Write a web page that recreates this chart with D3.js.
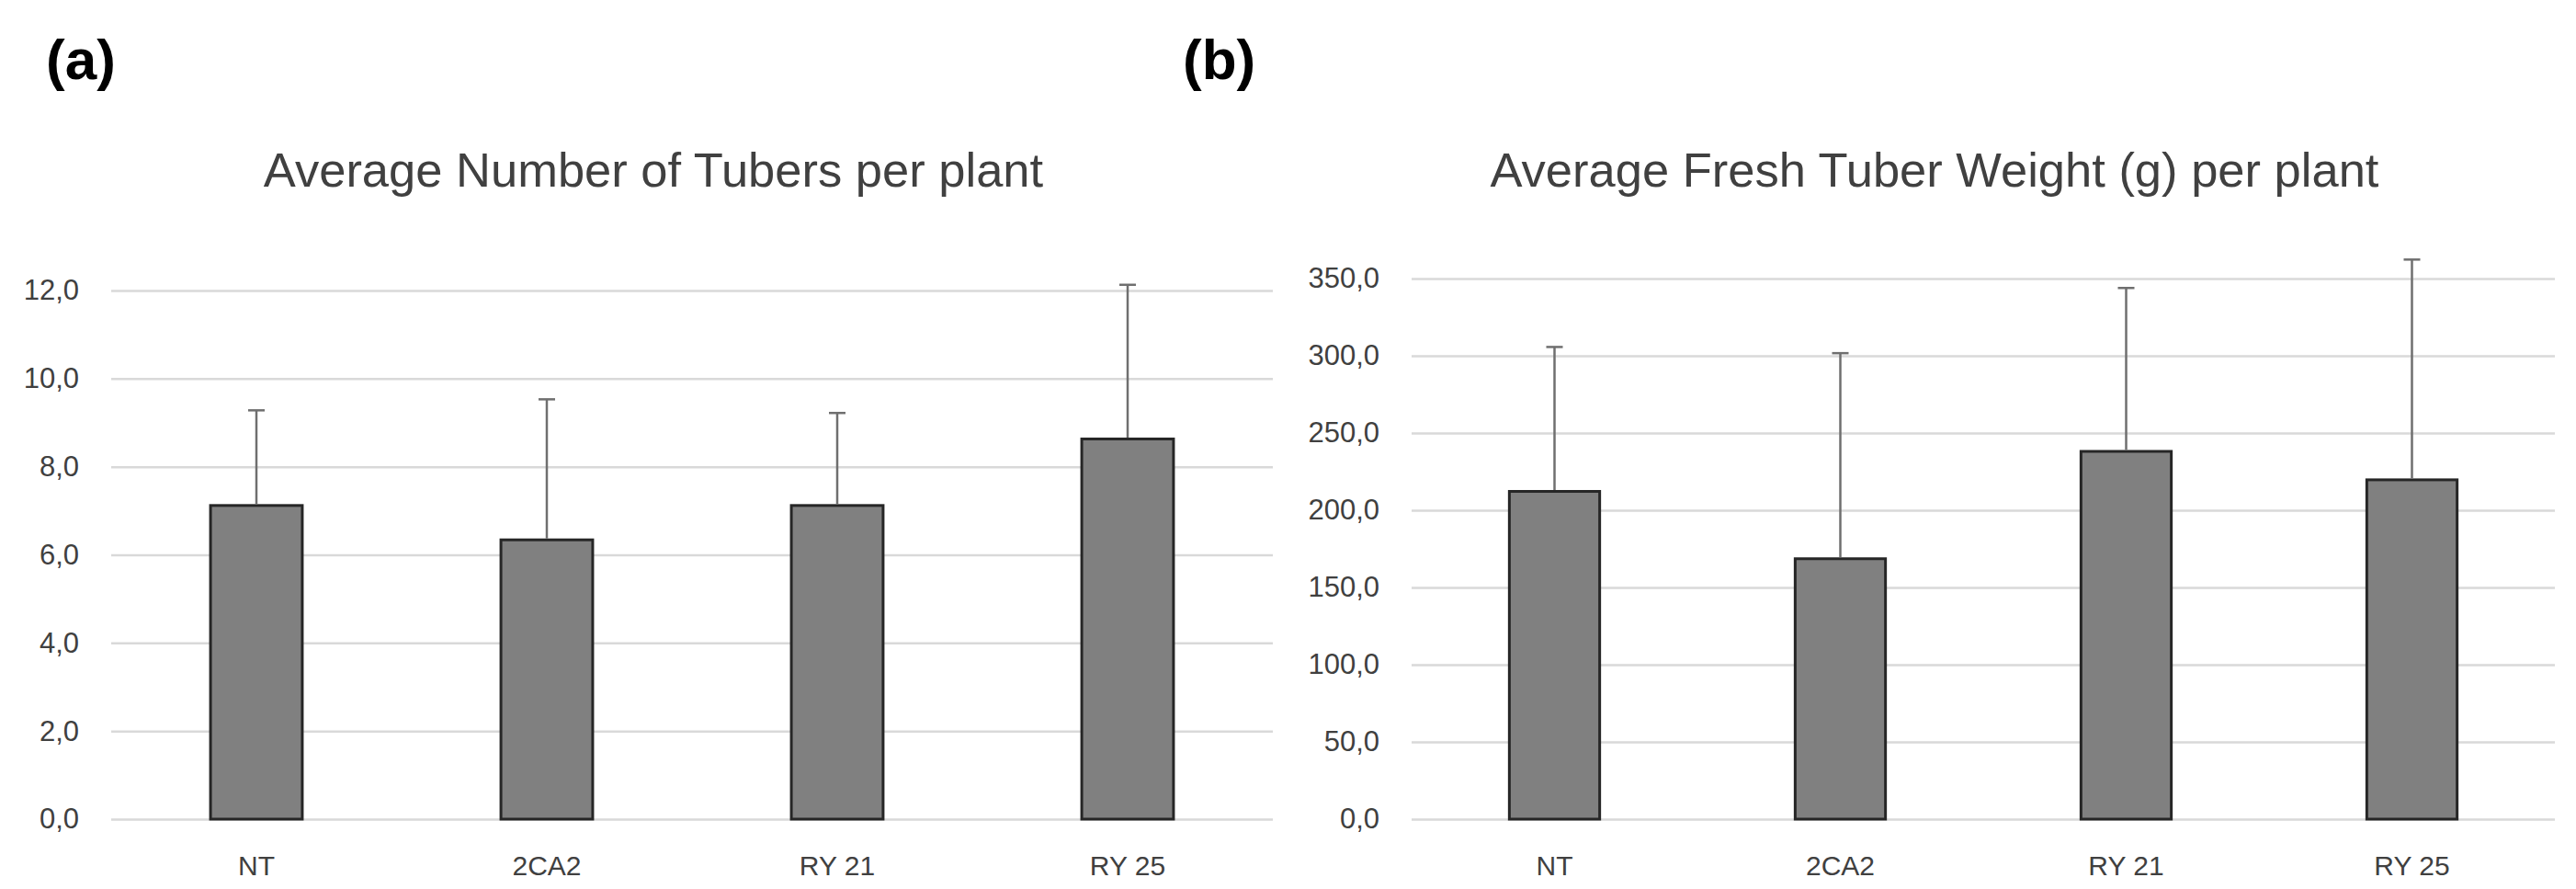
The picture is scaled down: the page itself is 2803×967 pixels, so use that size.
<!DOCTYPE html>
<html>
<head>
<meta charset="utf-8">
<script src="https://cdn.jsdelivr.net/npm/d3@7"></script>
<style>
  body { margin: 0; background: #fff; }
</style>
</head>
<body>
<div id="container"></div>
<script>
// categories and values
const categories = ["NT", "2CA2", "RY 21", "RY 25"];

const tubersMean = [7.12, 6.34, 7.12, 8.63];
const tubersErr = [2.16, 3.19, 2.10, 3.50];
const tubersTicks = [0, 2, 4, 6, 8, 10, 12];

const weightMean = [212.2, 168.6, 238.1, 219.7];
const weightErr = [93.5, 133.1, 105.8, 142.6];
const weightTicks = [0, 50, 100, 150, 200, 250, 300, 350];

const width = 2803;
const height = 967;
const font = "'Liberation Sans', Arial, sans-serif";

const svg = d3.select("#container").append("svg")
    .attr("width", width)
    .attr("height", height);

svg.append("rect")
    .attr("width", width)
    .attr("height", height)
    .attr("fill", "#fff");

const fmt = v => d3.format(".1f")(v).replace(".", ",");

function drawPanel(opts) {
  const { letter, letterX, title, titleX, x0, x1, yTop, yMax, means, errs, ticks } = opts;
  const y0 = 891;

  svg.append("text")
      .attr("x", letterX)
      .attr("y", 86)
      .attr("font-family", font)
      .attr("font-weight", "bold")
      .attr("font-size", 62)
      .attr("fill", "#000")
      .text(letter);

  svg.append("text")
      .attr("x", titleX)
      .attr("y", 203)
      .attr("text-anchor", "middle")
      .attr("font-family", font)
      .attr("font-size", 52.5)
      .attr("fill", "#404040")
      .text(title);

  const x = d3.scaleBand()
      .domain(categories)
      .range([x0, x1])
      .paddingInner(0.684)
      .paddingOuter(0.342);

  const y = d3.scaleLinear()
      .domain([0, yMax])
      .range([y0, yTop]);

  // y axis with gridlines
  const yAxis = svg.append("g")
      .attr("transform", `translate(${x0},0)`)
      .call(d3.axisLeft(y)
        .tickValues(ticks)
        .tickFormat(fmt)
        .tickSize(-(x1 - x0))
        .tickPadding(35));
  yAxis.select(".domain").remove();
  yAxis.selectAll("line")
      .attr("stroke", "#d9d9d9")
      .attr("stroke-width", 2.5);
  yAxis.selectAll("text")
      .attr("font-family", font)
      .attr("font-size", 31)
      .attr("fill", "#404040");

  // x axis labels
  const xAxis = svg.append("g")
      .attr("transform", `translate(0,${y0})`)
      .call(d3.axisBottom(x).tickSize(0).tickPadding(40));
  xAxis.select(".domain").remove();
  xAxis.selectAll("text")
      .attr("font-family", font)
      .attr("font-size", 30)
      .attr("fill", "#404040");

  // bars
  svg.append("g")
    .selectAll("rect")
    .data(categories)
    .join("rect")
      .attr("x", d => x(d))
      .attr("y", (d, i) => y(means[i]))
      .attr("width", x.bandwidth())
      .attr("height", (d, i) => y0 - y(means[i]))
      .attr("fill", "#808080")
      .attr("stroke", "#262626")
      .attr("stroke-width", 3);

  // error bars (upper only)
  const eb = svg.append("g")
      .attr("stroke", "#6f6f6f")
      .attr("stroke-width", 2.5);
  categories.forEach((c, i) => {
    const cx = x(c) + x.bandwidth() / 2;
    eb.append("line")
        .attr("x1", cx).attr("x2", cx)
        .attr("y1", y(means[i]) - 1.5)
        .attr("y2", y(means[i] + errs[i]));
    eb.append("line")
        .attr("x1", cx - 9).attr("x2", cx + 9)
        .attr("y1", y(means[i] + errs[i]))
        .attr("y2", y(means[i] + errs[i]));
  });
}

drawPanel({
  letter: "(a)", letterX: 50,
  title: "Average Number of Tubers per plant", titleX: 711,
  x0: 121, x1: 1385, yTop: 316, yMax: 12,
  means: tubersMean, errs: tubersErr, ticks: tubersTicks
});

drawPanel({
  letter: "(b)", letterX: 1287,
  title: "Average Fresh Tuber Weight (g) per plant", titleX: 2105,
  x0: 1536, x1: 2780, yTop: 303, yMax: 350,
  means: weightMean, errs: weightErr, ticks: weightTicks
});
</script>
</body>
</html>
